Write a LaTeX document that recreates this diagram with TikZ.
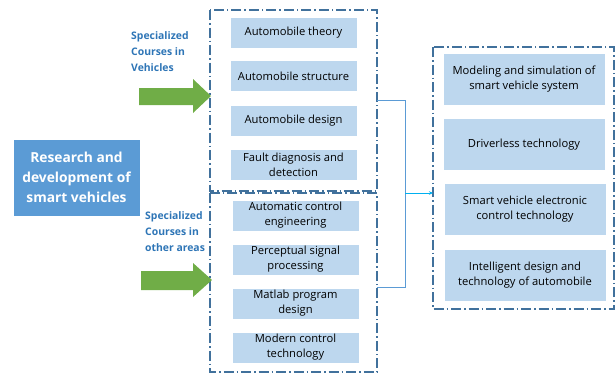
\documentclass[tikz,border=0pt]{standalone}
\usepackage{fontspec}
\setmainfont{Open Sans}
\usetikzlibrary{arrows.meta}
\definecolor{boxfill}{HTML}{BDD7EE}
\definecolor{mainfill}{HTML}{5B9BD5}
\definecolor{frameblue}{HTML}{41719C}
\definecolor{labelblue}{HTML}{2E75B6}
\definecolor{arrowgreen}{HTML}{70AD47}
\definecolor{linkblue}{HTML}{5B9BD5}
\definecolor{tipblue}{HTML}{00B0F0}
\tikzset{
  course/.style={fill=boxfill, draw=white, line width=0.6pt, minimum width=127pt, minimum height=31pt,
    align=center, inner sep=1pt, text=black, font=\fontsize{11.2}{15}\selectfont},
  topic/.style={fill=boxfill, draw=white, line width=0.6pt, minimum width=162pt, minimum height=52pt,
    align=center, inner sep=1pt, text=black, font=\fontsize{11.2}{15}\selectfont},
  frame/.style={draw=frameblue, line width=1.5pt,
    dash pattern=on 10pt off 3pt on 1.5pt off 3pt},
  sidelabel/.style={text=labelblue, align=left, anchor=north west, inner sep=0pt,
    font=\fontsize{10.4}{16}\selectfont\bfseries},
  bigarrow/.style={fill=arrowgreen, draw=none},
  link/.style={draw=linkblue, line width=0.8pt},
}
\begin{document}
\begin{tikzpicture}[x=1pt, y=-1pt]
\useasboundingbox (0,0) rectangle (616,376);

% course groups and their frames
\draw[frame] (210,10) rectangle (377,191);
\draw[frame] (210,193) rectangle (377,372);
\draw[frame] (433,47) rectangle (614,309);

% vehicle courses
\node[course] (c1) at (293.5,32.5) {Automobile theory};
\node[course] (c2) at (293.5,76) {Automobile structure};
\node[course] (c3) at (293.5,120.5) {Automobile design};
\node[course] (c4) at (293.5,164.5) {Fault diagnosis and\\detection};

% courses from other areas
\node[course] (d1) at (295.5,215.5) {Automatic control\\engineering};
\node[course] (d2) at (295.5,259.5) {Perceptual signal\\processing};
\node[course] (d3) at (295.5,303.5) {Matlab program\\design};
\node[course] (d4) at (295.5,347.5) {Modern control\\technology};

% research topics
\node[topic] (t1) at (524,79) {Modeling and simulation of\\smart vehicle system};
\node[topic] (t2) at (524,144.5) {Driverless technology};
\node[topic] (t3) at (525,209.5) {Smart vehicle electronic\\control technology};
\node[topic] (t4) at (525,275) {Intelligent design and\\technology of automobile};

% main goal
\node[fill=mainfill, minimum width=126pt, minimum height=76pt, align=center, text=white,
  font=\fontsize{13.8}{20}\selectfont\bfseries, inner sep=1pt] (goal) at (76.5,177.5)
  {Research and\\development of\\smart vehicles};

% side labels
\node[sidelabel] (l1) at (131,31) {Specialized\\Courses in\\Vehicles};
\node[sidelabel] (l2) at (145,211) {Specialized\\Courses in\\other areas};

% green block arrows into the course groups
\fill[bigarrow] (139,88) -- (193,88) -- (193,79) -- (211,96) -- (193,113) -- (193,105) -- (139,105) -- cycle;
\fill[bigarrow] (141,271) -- (193,271) -- (193,263) -- (212,280) -- (193,297) -- (193,290) -- (141,290) -- cycle;

% bracket joining both groups to the topics
\coordinate (ja) at (377,100);
\coordinate (jb) at (377,287);
\coordinate (jm) at (405,193);
\coordinate (jt) at (433,193);
\draw[link] (ja) -- (405,100) -- (405,287) -- (jb);
\draw[draw=tipblue, line width=0.8pt, -{Stealth[length=4pt,width=3.5pt]}] (jm) -- (jt);
\end{tikzpicture}
\end{document}
